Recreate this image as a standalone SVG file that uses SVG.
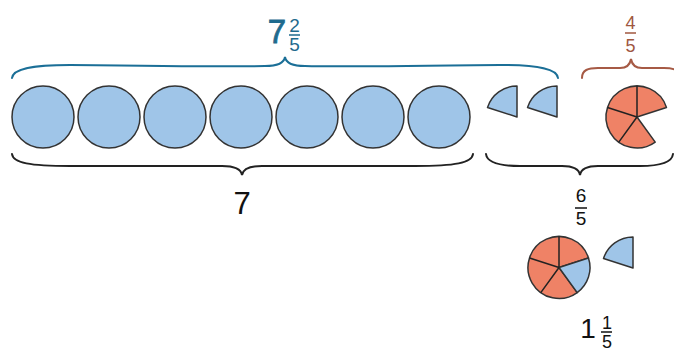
<svg xmlns="http://www.w3.org/2000/svg" width="674" height="351" viewBox="0 0 674 351">
<style>
.whole{fill:#9fc5e8;stroke:#333;stroke-width:1.5}
.blue{fill:#9fc5e8;stroke:#333;stroke-width:1.5;stroke-linejoin:round}
.red{fill:#ef8266;stroke:#333;stroke-width:1.5;stroke-linejoin:round}
.div{stroke:#222;stroke-width:1.5;fill:none}
.brace{fill:none;stroke-width:2;stroke-linecap:round}
text{font-family:"Liberation Sans",Arial,sans-serif;text-anchor:middle}
.bar{stroke-width:1.5}
</style>
<rect width="674" height="351" fill="#fff"/>
<g id="wholes">
<circle class="whole" cx="43" cy="117" r="31"/>
<circle class="whole" cx="109" cy="117" r="31"/>
<circle class="whole" cx="175" cy="117" r="31"/>
<circle class="whole" cx="241" cy="117" r="31"/>
<circle class="whole" cx="307" cy="117" r="31"/>
<circle class="whole" cx="373" cy="117" r="31"/>
<circle class="whole" cx="439" cy="117" r="31"/>
</g>
<g id="wedge1"><path class="blue" d="M517 117 L517 86 A31 31 0 0 0 487.52 107.42 Z"/></g>
<g id="wedge2"><path class="blue" d="M557 117 L557 86 A31 31 0 0 0 527.52 107.42 Z"/></g>
<g id="pie45">
<path class="red" d="M637 117 L666.48 107.42 A31 31 0 1 0 655.22 142.08 Z"/>
<path class="div" d="M637 117 L637 86 M637 117 L607.52 107.42 M637 117 L618.78 142.08"/>
</g>
<g id="pie65">
<path class="red" d="M559 267.5 L588.48 257.92 A31 31 0 1 0 577.22 292.58 Z"/>
<path class="blue" d="M559 267.5 L577.22 292.58 A31 31 0 0 0 588.48 257.92 Z"/>
<path class="div" d="M559 267.5 L559 236.5 M559 267.5 L529.52 257.92 M559 267.5 L540.78 292.58"/>
</g>
<g id="wedge3"><path class="blue" d="M633 268 L633 237 A31 31 0 0 0 603.52 258.42 Z"/></g>
<g id="connectors">
<path class="brace" stroke="#1b6f97" d="M12 78 C13 69 30 65 70 65 C150 66 230 67 265 66 C278 66 284 63 285 57 C286 63 292 66 305 66 C340 67 420 66 500 65 C540 65 557 69 558 78"/>
<path class="brace" stroke="#a65a45" d="M582 78 C582 70 588 68 598 68 L620 68 C627 68 630 65 631 59 C632 65 635 68 642 68 L664 68 C674 68 680 70 680 78"/>
<path class="brace" stroke="#222" d="M12 154 C13 163 30 166 70 166 L222 166 C235 166 241 169 242 175 C243 169 249 166 262 166 L415 166 C455 166 472 163 473 154"/>
<path class="brace" stroke="#222" d="M486 154 C487 163 500 166 520 166 L562 166 C574 166 579 169 580 175 C581 169 586 166 598 166 L640 166 C660 166 672 163 673 154"/>
</g>
<g id="label-742" fill="#1f6b8e">
<text x="277" y="43" font-size="33" stroke="#1f6b8e" stroke-width="0.8">7</text>
<text x="294.5" y="32" font-size="19">2</text>
<line class="bar" x1="289" y1="35" x2="300" y2="35" stroke="#1f6b8e"/>
<text x="294.5" y="51" font-size="19">5</text>
</g>
<g id="label-45" fill="#a0573f">
<text x="630.5" y="29" font-size="18">4</text>
<line class="bar" x1="625" y1="33" x2="636" y2="33" stroke="#a0573f"/>
<text x="630.5" y="52" font-size="18">5</text>
</g>
<g id="label-7" fill="#111">
<text x="242" y="214" font-size="31">7</text>
</g>
<g id="label-65" fill="#111">
<text x="581" y="202" font-size="19">6</text>
<line class="bar" x1="575" y1="208" x2="587" y2="208" stroke="#111"/>
<text x="581" y="225" font-size="19">5</text>
</g>
<g id="label-115" fill="#111">
<text x="588" y="338" font-size="28">1</text>
<text x="607" y="329" font-size="18">1</text>
<line class="bar" x1="601" y1="332" x2="612" y2="332" stroke="#111"/>
<text x="607" y="348" font-size="18">5</text>
</g>
</svg>
